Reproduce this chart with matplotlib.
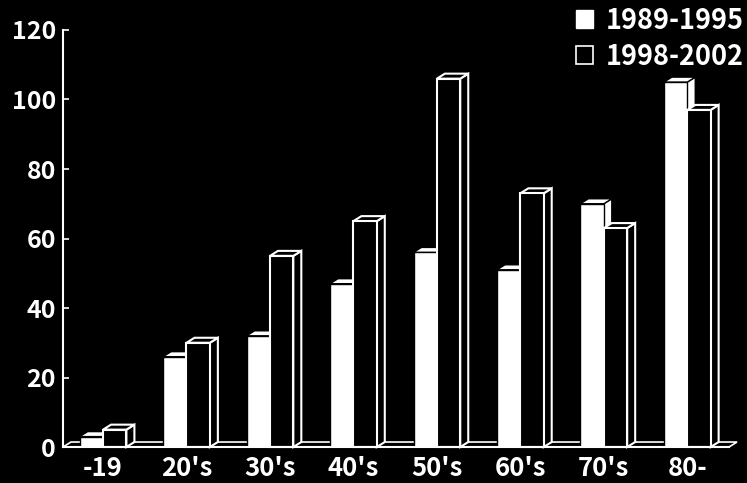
import matplotlib
matplotlib.use("Agg")
import matplotlib.pyplot as plt
from matplotlib.patches import Polygon, Patch
import numpy as np

plt.rcParams['font.family'] = ['Noto Sans CJK JP', 'DejaVu Sans']

age_groups = ["-19", "20's", "30's", "40's", "50's", "60's", "70's", "80-"]
cases_1989_1995 = [3, 26, 32, 47, 56, 51, 70, 105]
cases_1998_2002 = [5, 30, 55, 65, 106, 73, 63, 97]
series_labels = ["1989-1995", "1998-2002"]

fig = plt.figure(figsize=(7.47, 4.83), dpi=100, facecolor="black")
ax = fig.add_axes([0.0843, 0.0745, 0.8916, 0.8634], facecolor="black")
ax.set_xlim(-0.48, 7.5)
ax.set_ylim(0, 120)

# depth of the pseudo-3d boxes, in pixels -> data units
inv = ax.transData.inverted()
p0 = inv.transform((0, 0))
p1 = inv.transform((8, 5))
dx, dy = p1[0] - p0[0], p1[1] - p0[1]

width = 0.28
x = np.arange(len(age_groups))


def box(x0, h, face, edge, lw, z):
    x1 = x0 + width
    front = Polygon([(x0, 0), (x1, 0), (x1, h), (x0, h)], closed=True,
                    facecolor=face, edgecolor=edge, lw=lw, zorder=z)
    top = Polygon([(x0, h), (x1, h), (x1 + dx, h + dy), (x0 + dx, h + dy)],
                  closed=True, facecolor=face, edgecolor=edge, lw=lw, zorder=z)
    side = Polygon([(x1, 0), (x1 + dx, dy), (x1 + dx, h + dy), (x1, h)],
                   closed=True, facecolor=face, edgecolor=edge, lw=lw, zorder=z)
    for p in (side, top, front):
        p.set_clip_on(False)
        ax.add_patch(p)


# floor slab along the baseline
xl, xr = ax.get_xlim()
floor = Polygon([(xl, 0), (xr, 0), (xr + dx, dy), (xl + dx, dy)], closed=True,
                facecolor="black", edgecolor="white", lw=1.2, zorder=1,
                clip_on=False)
ax.add_patch(floor)

for i in range(len(age_groups)):
    z = 2 + i * 2
    box(x[i] - width, cases_1989_1995[i], "white", "black", 1.0, z)
    box(x[i], cases_1998_2002[i], "black", "white", 1.5, z + 1)

for side in ["top", "right"]:
    ax.spines[side].set_visible(False)
for side in ["left", "bottom"]:
    ax.spines[side].set_color("white")
    ax.spines[side].set_linewidth(1.5)
    ax.spines[side].set_zorder(30)

ax.set_yticks(np.arange(0, 121, 20))
ax.set_xticks(x)
ax.set_xticklabels(age_groups)
ax.tick_params(axis="y", direction="in", length=4, width=1.2, colors="white",
               labelsize=18, pad=5)
ax.tick_params(axis="x", length=0, colors="white", labelsize=18.5, pad=6)
for lab in ax.get_xticklabels() + ax.get_yticklabels():
    lab.set_fontweight("bold")

handles = [Patch(facecolor="white", edgecolor="white"),
           Patch(facecolor="black", edgecolor="white", lw=1.2)]
leg = fig.legend(handles, series_labels, loc="upper right",
                 bbox_to_anchor=(1.017, 1.02), frameon=False, fontsize=19.5,
                 handlelength=0.65, handleheight=0.65, handletextpad=0.45,
                 labelspacing=0.3, borderaxespad=0.2)
for t in leg.get_texts():
    t.set_color("white")
    t.set_fontweight("bold")

fig.savefig("out.png", dpi=100, facecolor="black")
